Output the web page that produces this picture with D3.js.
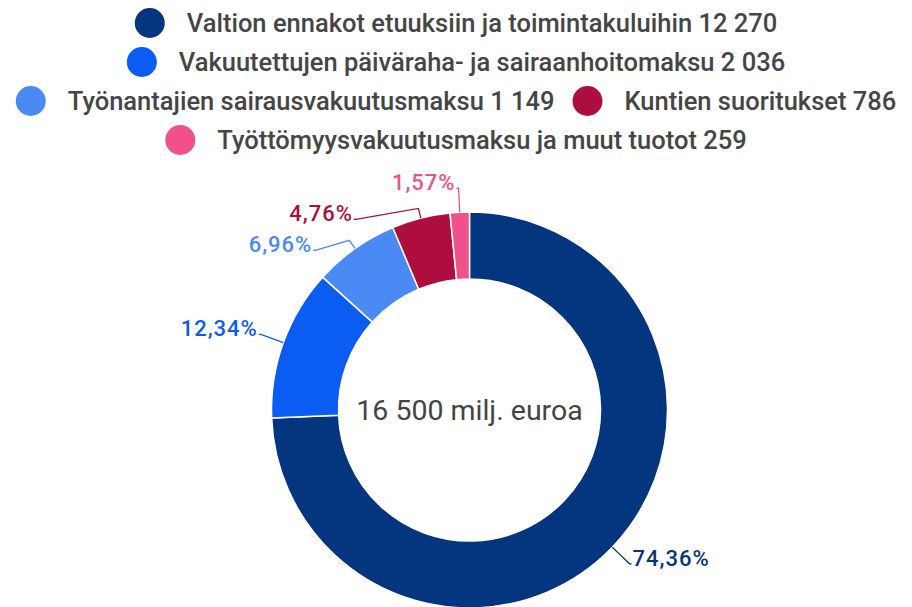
<!DOCTYPE html>
<meta charset="utf-8">
<html>
<head>
    <style>
        body {
            margin: 0;
            background-color: #fff;
        }

        text.legend-label {
            font-family: Roboto, "Noto Sans", sans-serif;
            font-size: 25.5px;
            font-weight: 500;
            fill: #454545;
        }

        text.center-label {
            font-family: Roboto, "Noto Sans", sans-serif;
            font-size: 28.5px;
            fill: #444;
        }

        text.pct-label {
            font-family: Roboto, "Noto Sans", sans-serif;
            font-size: 22px;
            font-weight: 500;
            letter-spacing: 1px;
        }
    </style>
    <title>Sairausvakuutuksen rahoitus</title>
    <script src="https://cdn.jsdelivr.net/npm/d3@7"></script>
</head>
<body>
<div id="chart"></div>
<script type="text/javascript">
    // rahoituslähteet, milj. euroa
    const sources = [
        "Valtion ennakot etuuksiin ja toimintakuluihin",
        "Vakuutettujen päiväraha- ja sairaanhoitomaksu",
        "Työnantajien sairausvakuutusmaksu",
        "Kuntien suoritukset",
        "Työttömyysvakuutusmaksu ja muut tuotot"
    ];
    const amounts = [12270, 2036, 1149, 786, 259];
    const colors = ["#04357f", "#0b5cf2", "#4b8af5", "#ad0e3e", "#f0518a"];
    const centerText = "16 500 milj. euroa";

    const width = 912,
        height = 607,
        cx = 469.5,
        cy = 410,
        outerR = 198,
        innerR = 131,
        labelR = outerR + 24,
        dotR = 15;

    const fi = d3.formatLocale({decimal: ",", thousands: " ", grouping: [3], currency: ["", " €"]});
    const fmtNum = fi.format(",d");
    const fmtPct = fi.format(".2f");

    const total = d3.sum(amounts);

    const svg = d3.select("#chart").append("svg")
        .attr("width", width)
        .attr("height", height);

    // ---- legend (wrapped rows, centered) ----
    const legend = svg.append("g").attr("class", "legend");
    const items = sources.map(function (s, i) {
        const g = legend.append("g");
        g.append("circle")
            .attr("r", dotR)
            .attr("cx", dotR)
            .attr("cy", 0)
            .style("fill", colors[i]);
        const t = g.append("text")
            .attr("class", "legend-label")
            .attr("x", dotR * 2 + 22)
            .attr("y", 0)
            .attr("dy", "0.35em")
            .text(s + " " + fmtNum(amounts[i]));
        return {g: g, w: dotR * 2 + 22 + t.node().getComputedTextLength()};
    });

    const rowGap = 18, maxRow = 911, rowStep = 39, firstRowY = 23;
    const rows = [];
    items.forEach(function (it) {
        const row = rows[rows.length - 1];
        if (row && row.w + rowGap + it.w <= maxRow) {
            row.items.push(it);
            row.w += rowGap + it.w;
        } else {
            rows.push({items: [it], w: it.w});
        }
    });
    rows.forEach(function (row, r) {
        let x = width / 2 - row.w / 2;
        row.items.forEach(function (it) {
            it.g.attr("transform", "translate(" + x + "," + (firstRowY + r * rowStep) + ")");
            x += it.w + rowGap;
        });
    });

    // ---- donut ----
    const pie = d3.pie().sort(null).value((d) => d);
    const arcs = pie(amounts);
    const arc = d3.arc().innerRadius(innerR).outerRadius(outerR);

    const chart = svg.append("g")
        .attr("transform", "translate(" + cx + "," + cy + ")");

    chart.selectAll("path.slice")
        .data(arcs)
        .enter().append("path")
        .attr("class", "slice")
        .attr("d", arc)
        .style("fill", (d, i) => colors[i])
        .style("stroke", "#fff")
        .style("stroke-width", 1.5);

    chart.append("text")
        .attr("class", "center-label")
        .attr("text-anchor", "middle")
        .attr("dy", "0.35em")
        .text(centerText);

    // ---- percentage labels with leader lines ----
    function pt(r, a) {
        return [r * Math.sin(a), -r * Math.cos(a)];
    }

    const labs = arcs.map(function (d, i) {
        const a = (d.startAngle + d.endAngle) / 2;
        const p = pt(labelR, a);
        return {
            i: i, a: a,
            side: Math.sin(a) >= 0 ? 1 : -1,
            edge: pt(outerR, a),
            knee: pt(outerR + 10, a),
            x: p[0], y: p[1],
            text: fmtPct(d.data / total * 100) + "%"
        };
    });

    // measure texts
    const pctG = chart.append("g");
    labs.forEach(function (l) {
        const t = pctG.append("text").attr("class", "pct-label").text(l.text);
        l.w = t.node().getComputedTextLength();
        l.node = t;
    });

    // push overlapping left-side labels downward along the label circle
    const step = 31;
    const left = labs.filter((l) => l.side < 0).sort((a, b) => a.y - b.y);
    for (let k = 1; k < left.length; k++) {
        const prev = left[k - 1], cur = left[k];
        const overlapX = (cur.x - cur.w) < prev.x && cur.x > (prev.x - prev.w);
        if (overlapX && cur.y < prev.y + step) {
            cur.y = prev.y + step;
            const dx = Math.sqrt(Math.max(0, labelR * labelR - cur.y * cur.y));
            cur.x = -dx;
        }
    }

    const line = d3.line();
    labs.forEach(function (l) {
        const c = colors[l.i];
        const end = [l.x + l.side * 2, l.y];
        chart.append("path")
            .attr("d", line([l.edge, l.knee, [l.x, l.y], end]))
            .style("fill", "none")
            .style("stroke", c)
            .style("stroke-width", 1.3);
        l.node
            .attr("x", l.x + l.side * 3)
            .attr("y", l.y - 6)
            .attr("dy", "0.35em")
            .attr("text-anchor", l.side > 0 ? "start" : "end")
            .style("fill", c);
    });
</script>
</body>
</html>
